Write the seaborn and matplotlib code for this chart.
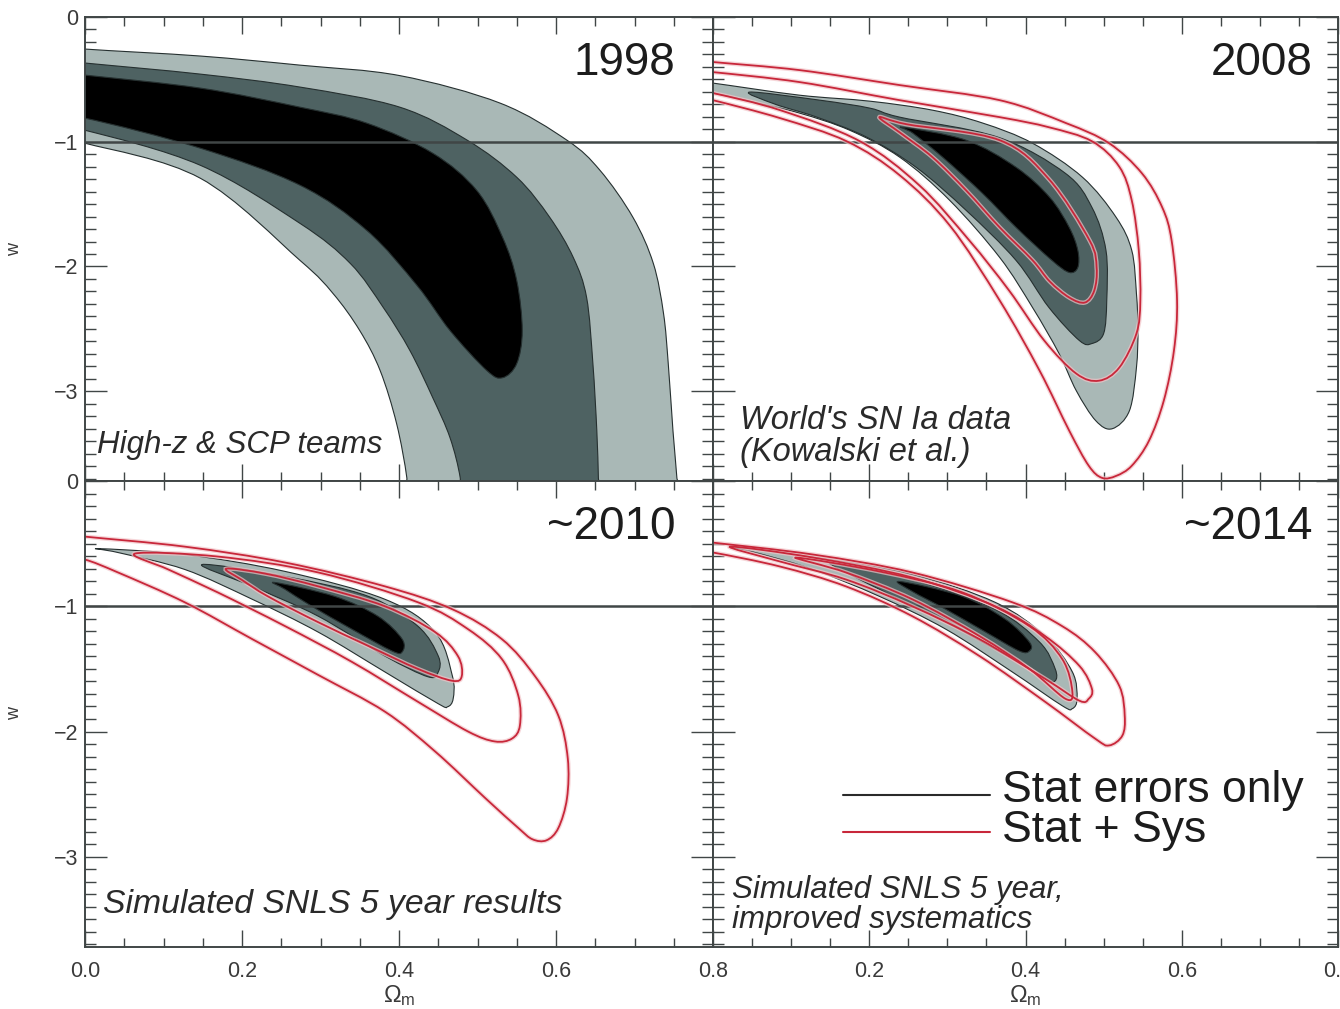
import numpy as np
import matplotlib
matplotlib.use("Agg")
import matplotlib.pyplot as plt
from matplotlib.path import Path
from matplotlib.patches import PathPatch
from matplotlib.ticker import MultipleLocator, FixedLocator
import seaborn as sns

# ---------------------------------------------------------------------------
# Confidence-region outlines in the (Omega_m, w) plane, as (Omega_m, w) vertices
# ---------------------------------------------------------------------------

# 1998: High-z & SCP teams (stat only)
LIGHT_1998 = [(-0.06, -0.22), (0.0, -0.257), (0.147, -0.313), (0.274, -0.386), (0.401, -0.470),
              (0.529, -0.691), (0.614, -0.988), (0.656, -1.229), (0.698, -1.606), (0.724, -1.976),
              (0.737, -2.378), (0.743, -2.779), (0.749, -3.317), (0.754, -3.695), (0.756, -3.95),
              (0.412, -3.95), (0.410, -3.695), (0.397, -3.261), (0.376, -2.835), (0.350, -2.514),
              (0.316, -2.217), (0.274, -1.952), (0.147, -1.293), (0.0, -1.012), (-0.06, -0.95)]
DARK_1998 = [(-0.06, -0.33), (0.0, -0.369), (0.147, -0.458), (0.274, -0.562), (0.401, -0.723),
             (0.487, -0.988), (0.550, -1.285), (0.592, -1.606), (0.622, -1.928), (0.639, -2.249),
             (0.647, -2.779), (0.652, -3.317), (0.654, -3.695), (0.655, -3.95),
             (0.480, -3.95), (0.478, -3.695), (0.465, -3.373), (0.443, -3.052), (0.414, -2.675),
             (0.380, -2.329), (0.338, -1.976), (0.274, -1.655), (0.147, -1.189), (0.0, -0.908),
             (-0.06, -0.86)]
BLACK_1998 = [(-0.06, -0.43), (0.0, -0.466), (0.147, -0.570), (0.274, -0.723), (0.359, -0.851),
              (0.443, -1.092), (0.499, -1.390), (0.532, -1.767), (0.550, -2.112), (0.557, -2.514),
              (0.550, -2.779), (0.532, -2.892), (0.512, -2.835), (0.465, -2.514), (0.423, -2.153),
              (0.359, -1.711), (0.274, -1.349), (0.147, -1.052), (0.0, -0.811), (-0.06, -0.77)]

# 2008: World's SN Ia data (Kowalski et al.)
LIGHT_2008 = [(-0.02, -0.52), (0.0, -0.53), (0.111, -0.627), (0.201, -0.675), (0.281, -0.747),
              (0.345, -0.85), (0.409, -1.012), (0.473, -1.285), (0.516, -1.606), (0.536, -1.871),
              (0.542, -2.217), (0.544, -2.5), (0.542, -2.811), (0.533, -3.157), (0.511, -3.301),
              (0.490, -3.237), (0.465, -2.996), (0.443, -2.699), (0.409, -2.329), (0.367, -1.928),
              (0.303, -1.470), (0.239, -1.124), (0.175, -0.908), (0.111, -0.771), (0.05, -0.68),
              (0.0, -0.61), (-0.02, -0.60)]
DARK_2008 = [(0.047, -0.602), (0.137, -0.667), (0.201, -0.731), (0.239, -0.803), (0.365, -0.964),
             (0.451, -1.253), (0.485, -1.526), (0.503, -1.871), (0.504, -2.273), (0.500, -2.538),
             (0.485, -2.618), (0.469, -2.594), (0.430, -2.329), (0.388, -1.952), (0.324, -1.550),
             (0.260, -1.205), (0.197, -0.964), (0.133, -0.803), (0.08, -0.70)]
BLACK_2008 = [(0.243, -0.884), (0.324, -0.988), (0.388, -1.205), (0.431, -1.446), (0.456, -1.687),
              (0.467, -1.871), (0.467, -2.008), (0.456, -2.048), (0.434, -1.952), (0.388, -1.687),
              (0.345, -1.414), (0.294, -1.124), (0.256, -0.932)]
RED1_2008 = [(0.213, -0.803), (0.248, -0.86), (0.367, -0.988), (0.430, -1.30), (0.482, -1.791),
             (0.491, -2.008), (0.488, -2.193), (0.476, -2.289), (0.456, -2.249), (0.431, -2.12),
             (0.409, -1.95), (0.367, -1.687), (0.324, -1.390), (0.281, -1.124), (0.240, -0.93)]
RED2_2008 = [(-0.03, -0.43), (0.0, -0.442), (0.111, -0.522), (0.239, -0.667), (0.367, -0.803),
             (0.430, -0.884), (0.485, -0.996), (0.520, -1.2), (0.536, -1.470), (0.545, -1.871),
             (0.547, -2.273), (0.542, -2.538), (0.520, -2.811), (0.494, -2.916), (0.465, -2.859),
             (0.424, -2.594), (0.379, -2.193), (0.328, -1.791), (0.264, -1.349), (0.188, -0.996),
             (0.086, -0.747), (0.0, -0.610), (-0.03, -0.58)]
RED3_2008 = [(-0.03, -0.34), (0.0, -0.361), (0.111, -0.426), (0.239, -0.546), (0.367, -0.667),
             (0.452, -0.851), (0.507, -1.012), (0.549, -1.253), (0.575, -1.526), (0.587, -1.791),
             (0.594, -2.273), (0.590, -2.675), (0.577, -3.076), (0.558, -3.398), (0.536, -3.598),
             (0.516, -3.679), (0.498, -3.695), (0.481, -3.598), (0.456, -3.317), (0.418, -2.835),
             (0.367, -2.273), (0.303, -1.671), (0.239, -1.269), (0.171, -0.996), (0.086, -0.811),
             (0.0, -0.667), (-0.03, -0.63)]

# ~2010: simulated SNLS 5 year results
LIGHT_2010 = [(0.017, -0.540), (0.127, -0.587), (0.255, -0.722), (0.382, -0.944), (0.446, -1.206),
              (0.468, -1.556), (0.469, -1.738), (0.462, -1.802), (0.45, -1.778), (0.382, -1.524),
              (0.297, -1.206), (0.213, -0.944), (0.127, -0.706), (0.042, -0.571)]
DARK_2010 = [(0.149, -0.667), (0.255, -0.762), (0.361, -0.921), (0.424, -1.159), (0.450, -1.397),
             (0.450, -1.524), (0.437, -1.563), (0.382, -1.397), (0.297, -1.079), (0.213, -0.841)]
BLACK_2010 = [(0.242, -0.810), (0.318, -0.921), (0.373, -1.079), (0.404, -1.262), (0.404, -1.365),
              (0.391, -1.357), (0.340, -1.183), (0.289, -1.0), (0.255, -0.865)]
RED1_2010 = [(0.18, -0.70), (0.230, -0.74), (0.297, -0.841), (0.382, -1.0), (0.446, -1.206),
             (0.475, -1.397), (0.480, -1.556), (0.468, -1.595), (0.424, -1.5), (0.361, -1.317),
             (0.297, -1.127), (0.233, -0.921), (0.20, -0.79)]
RED2_2010 = [(0.064, -0.579), (0.169, -0.603), (0.297, -0.730), (0.424, -0.968), (0.488, -1.183),
             (0.531, -1.421), (0.552, -1.714), (0.554, -1.952), (0.544, -2.056), (0.522, -2.079),
             (0.488, -2.0), (0.424, -1.762), (0.340, -1.444), (0.255, -1.159), (0.169, -0.889),
             (0.106, -0.706)]
RED3_2010 = [(-0.03, -0.42), (0.0, -0.444), (0.127, -0.524), (0.255, -0.651), (0.382, -0.841),
             (0.468, -1.024), (0.531, -1.262), (0.573, -1.556), (0.603, -1.873), (0.615, -2.214),
             (0.614, -2.532), (0.603, -2.770), (0.588, -2.868), (0.570, -2.86), (0.552, -2.770),
             (0.510, -2.532), (0.446, -2.159), (0.382, -1.841), (0.297, -1.548), (0.213, -1.262),
             (0.127, -0.968), (0.042, -0.730), (0.0, -0.627), (-0.03, -0.6)]

# ~2014: simulated SNLS 5 year, improved systematics
LIGHT_2014 = [(0.026, -0.524), (0.128, -0.603), (0.255, -0.746), (0.361, -0.968), (0.425, -1.238),
              (0.460, -1.524), (0.466, -1.738), (0.460, -1.817), (0.447, -1.794), (0.383, -1.524),
              (0.298, -1.183), (0.213, -0.921), (0.128, -0.706), (0.064, -0.587)]
DARK_2014 = [(0.149, -0.643), (0.255, -0.786), (0.361, -1.024), (0.418, -1.286), (0.438, -1.5),
             (0.438, -1.595), (0.425, -1.579), (0.383, -1.421), (0.298, -1.127), (0.213, -0.865)]
BLACK_2014 = [(0.239, -0.802), (0.319, -0.921), (0.374, -1.103), (0.405, -1.286), (0.405, -1.357),
              (0.392, -1.357), (0.349, -1.206), (0.298, -1.024), (0.255, -0.881)]
RED1_2014 = [(0.106, -0.611), (0.213, -0.722), (0.319, -0.889), (0.405, -1.159), (0.447, -1.421),
             (0.460, -1.683), (0.451, -1.738), (0.405, -1.5), (0.341, -1.238), (0.255, -0.944),
             (0.170, -0.730)]
RED2_2014 = [(0.022, -0.524), (0.128, -0.611), (0.255, -0.770), (0.361, -1.0), (0.425, -1.238),
             (0.469, -1.476), (0.485, -1.659), (0.481, -1.738), (0.469, -1.754), (0.425, -1.579),
             (0.341, -1.262), (0.255, -1.0), (0.170, -0.786), (0.086, -0.643)]
RED3_2014 = [(-0.03, -0.47), (0.0, -0.492), (0.128, -0.587), (0.255, -0.730), (0.383, -0.968),
             (0.447, -1.159), (0.489, -1.365), (0.520, -1.635), (0.527, -1.873), (0.524, -2.032),
             (0.507, -2.111), (0.489, -2.056), (0.425, -1.762), (0.341, -1.397), (0.255, -1.079),
             (0.170, -0.841), (0.086, -0.683), (0.0, -0.571), (-0.03, -0.55)]

YEARS = ["1998", "2008", "~2010", "~2014"]
CAPTIONS = [["High-z & SCP teams"],
            ["World's SN Ia data", "(Kowalski et al.)"],
            ["Simulated SNLS 5 year results"],
            ["Simulated SNLS 5 year,", "improved systematics"]]
LEGEND_LABELS = ["Stat errors only", "Stat + Sys"]
W_REFERENCE = -1.0
X_TICKS = [0.0, 0.2, 0.4, 0.6, 0.8]
Y_TICKS = [0, -1, -2, -3]

# ---------------------------------------------------------------------------
sns.set_theme(style="ticks")
plt.rcParams["font.family"] = ["Liberation Sans", "DejaVu Sans"]
plt.rcParams["mathtext.fontset"] = "custom"
plt.rcParams["mathtext.rm"] = "Liberation Sans"
plt.rcParams["mathtext.it"] = "Liberation Sans:italic"

LIGHT_C = "#a9b8b6"
DARK_C = "#4e6262"
BLACK_C = "#000000"
EDGE_C = "#263030"
RED_C = "#c8273a"
AXIS_C = "#404646"
TEXT_C = "#1c1c1c"
CAPTION_C = "#2a2a2a"


def smooth_path(points):
    """Closed smooth outline through the given vertices (Catmull-Rom as cubic Beziers)."""
    p = np.asarray(points, dtype=float)
    n = len(p)
    verts = [p[0]]
    codes = [Path.MOVETO]
    for i in range(n):
        p0, p1, p2, p3 = p[i - 1], p[i], p[(i + 1) % n], p[(i + 2) % n]
        c1 = p1 + (p2 - p0) / 6.0
        c2 = p2 - (p3 - p1) / 6.0
        verts += [c1, c2, p2]
        codes += [Path.CURVE4] * 3
    verts.append(p[0])
    codes.append(Path.CLOSEPOLY)
    return Path(np.array(verts), codes)


def fill_region(ax, pts, color, z):
    ax.add_patch(PathPatch(smooth_path(pts), facecolor=color, edgecolor=EDGE_C,
                           lw=0.8, zorder=z))


def red_contour(ax, pts):
    ax.add_patch(PathPatch(smooth_path(pts), facecolor="none", edgecolor="#f2c4c8",
                           lw=3.2, zorder=5, alpha=0.7))
    ax.add_patch(PathPatch(smooth_path(pts), facecolor="none", edgecolor=RED_C,
                           lw=1.3, zorder=6))


panels = [
    dict(fills=[LIGHT_1998, DARK_1998, BLACK_1998], reds=[]),
    dict(fills=[LIGHT_2008, DARK_2008, BLACK_2008], reds=[RED1_2008, RED2_2008, RED3_2008]),
    dict(fills=[LIGHT_2010, DARK_2010, BLACK_2010], reds=[RED1_2010, RED2_2010, RED3_2010]),
    dict(fills=[LIGHT_2014, DARK_2014, BLACK_2014], reds=[RED1_2014, RED2_2014, RED3_2014]),
]

fig = plt.figure(figsize=(13.4, 10.09), dpi=100)
W, H = 1340.0, 1009.0
boxes = [
    (85 / W, (H - 481) / H, 628 / W, 464 / H),
    (713 / W, (H - 481) / H, 625 / W, 464 / H),
    (85 / W, (H - 947) / H, 628 / W, 466 / H),
    (713 / W, (H - 947) / H, 625 / W, 466 / H),
]
year_x = [0.94, 0.96, 0.94, 0.96]
# caption lines: (x, baseline y, fontsize) in axes fractions
caption_pos = [
    [(0.019, 0.060, 22.5)],
    [(0.043, 0.112, 23.5), (0.043, 0.043, 23.5)],
    [(0.029, 0.073, 24.3)],
    [(0.03, 0.105, 22.5), (0.03, 0.041, 22.5)],
]

for k, (box, spec) in enumerate(zip(boxes, panels)):
    ax = fig.add_axes(box)
    ax.set_facecolor("white")
    ax.set_xlim(0, 0.8)
    ax.set_ylim(-3.72, 0)

    for pts, col, z in zip(spec["fills"], [LIGHT_C, DARK_C, BLACK_C], [1, 2, 3]):
        fill_region(ax, pts, col, z)
    for pts in spec["reds"]:
        red_contour(ax, pts)

    sns.lineplot(x=[0.0, 0.8], y=[W_REFERENCE, W_REFERENCE], color=AXIS_C, lw=1.8,
                 ax=ax, zorder=4, legend=False)

    # axes, ticks
    for s in ax.spines.values():
        s.set_color(AXIS_C)
        s.set_linewidth(1.4)
        s.set_zorder(8)
    ax.xaxis.set_major_locator(FixedLocator(X_TICKS))
    ax.xaxis.set_minor_locator(MultipleLocator(0.05))
    ax.yaxis.set_major_locator(FixedLocator(Y_TICKS))
    ax.yaxis.set_minor_locator(MultipleLocator(0.1))
    ax.tick_params(which="both", direction="in", top=True, right=True,
                   color=AXIS_C, width=1.0, labelcolor="#3a3a3a", labelsize=15.5)
    ax.tick_params(axis="x", which="major", length=12, pad=10)
    ax.tick_params(axis="x", which="minor", length=6.5)
    ax.tick_params(axis="y", which="major", length=16, pad=5)
    ax.tick_params(axis="y", which="minor", length=8)

    left = k in (0, 2)
    bottom = k in (2, 3)
    if left:
        ax.set_yticklabels(["0", "\u22121", "\u22122", "\u22123"])
        ax.set_ylabel("w", fontsize=13, color="#3a3a3a", labelpad=22)
    else:
        ax.tick_params(axis="y", labelleft=False)
        ax.set_ylabel("")
    if bottom:
        if left:
            ax.set_xticklabels(["0.0", "0.2", "0.4", "0.6", "0.8"])
        else:
            ax.set_xticklabels(["", "0.2", "0.4", "0.6", "0.8"])
        ax.set_xlabel(r"$\Omega_{\rm m}$", fontsize=17, color="#3a3a3a", labelpad=1)
    else:
        ax.tick_params(axis="x", labelbottom=False)
        ax.set_xlabel("")

    # year label
    ax.text(year_x[k], 0.875, YEARS[k], transform=ax.transAxes, ha="right",
            va="baseline", fontsize=33, color=TEXT_C, zorder=9)

    # caption
    for line, (cx, cy, fs) in zip(CAPTIONS[k], caption_pos[k]):
        ax.text(cx, cy, line, transform=ax.transAxes, fontsize=fs, style="italic",
                color=CAPTION_C, va="baseline", zorder=9)

    # legend keys in the last panel
    if k == 3:
        for (label, col, ly, ty) in [(LEGEND_LABELS[0], "#2a2a2a", 0.326, 0.312),
                                     (LEGEND_LABELS[1], RED_C, 0.247, 0.226)]:
            ax.plot([0.208, 0.443], [ly, ly], transform=ax.transAxes, color=col,
                    lw=1.5, zorder=9)
            ax.text(0.463, ty, label, transform=ax.transAxes, fontsize=32,
                    color=TEXT_C, va="baseline", ha="left", zorder=9)

fig.savefig("out.png", dpi=100, facecolor="white")
